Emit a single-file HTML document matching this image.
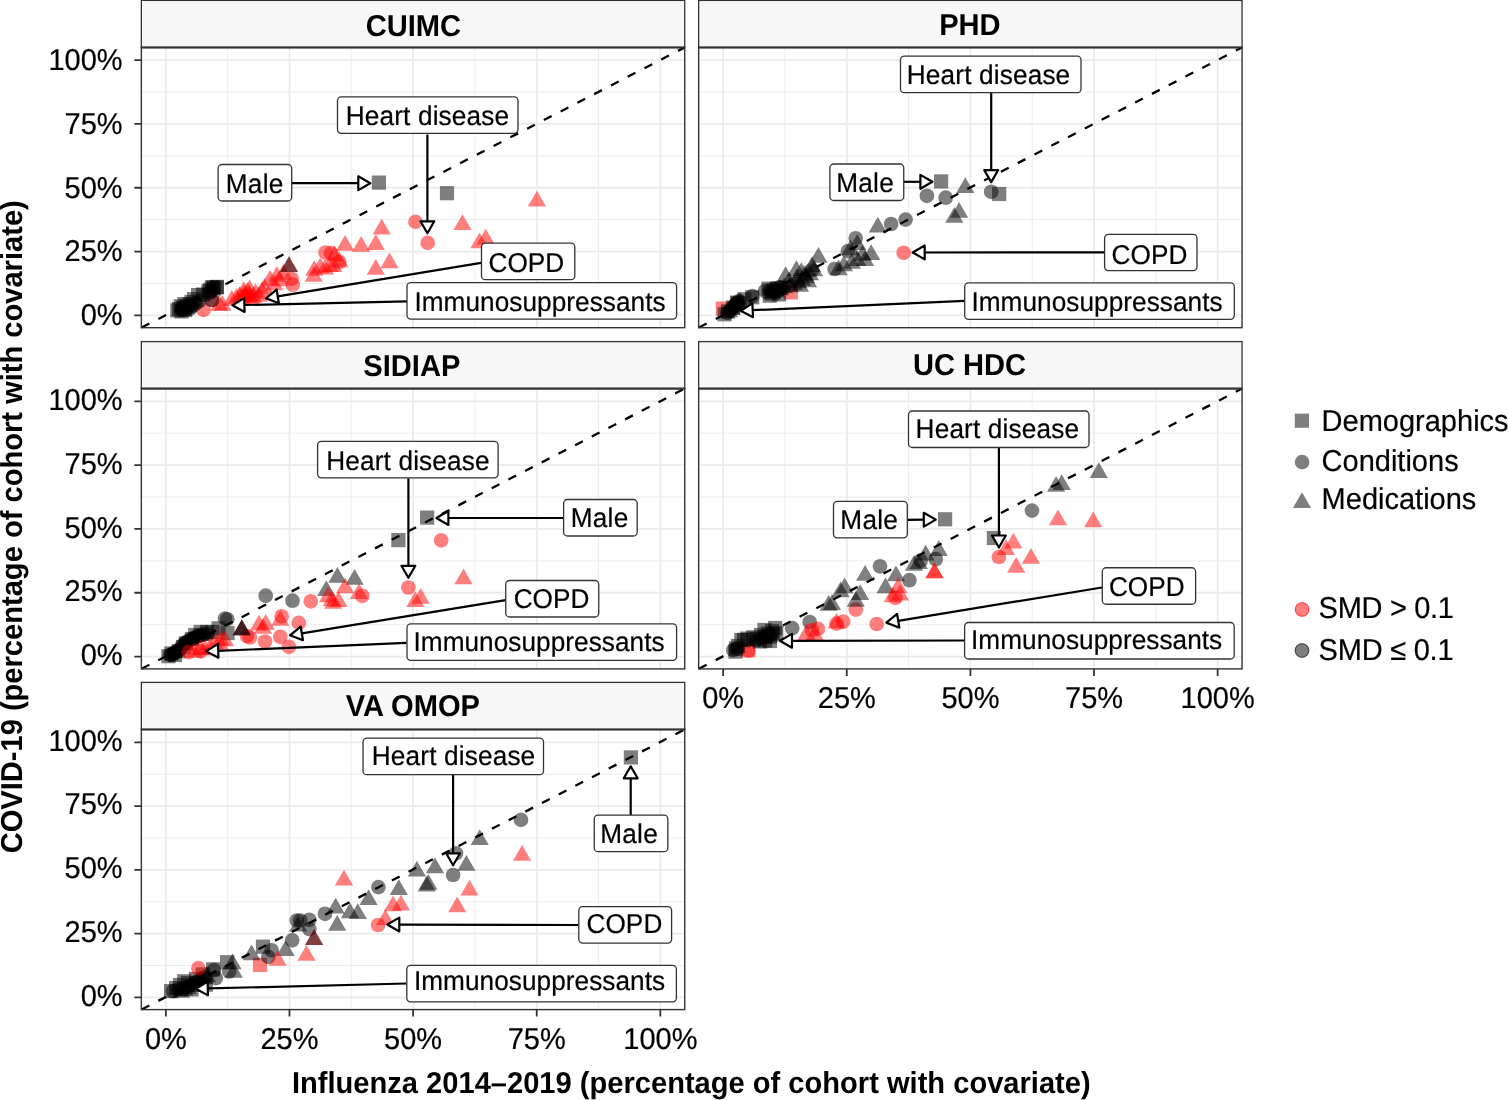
<!DOCTYPE html>
<html lang="en"><head><meta charset="utf-8"><title>Covariate prevalence: COVID-19 vs Influenza</title>
<style>
html,body{margin:0;padding:0;background:#fff}
body{width:1508px;height:1100px;overflow:hidden}
svg{display:block;font-family:"Liberation Sans", Arial, Helvetica, sans-serif;text-rendering:geometricPrecision}
.t{font-size:29px;fill:#000;stroke:#000;stroke-width:.2px}
.b{font-size:29.1px;font-weight:bold;fill:#000}
.l{font-size:26.2px;fill:#000;stroke:#000;stroke-width:.2px}
.gM{stroke:#ebebeb;stroke-width:1.8;fill:none}
.gm{stroke:#ebebeb;stroke-width:.9;fill:none}
.tk{stroke:#333;stroke-width:1.8;fill:none}
.bd{stroke:#333;stroke-width:1.4;fill:none}
.st{stroke:#333;stroke-width:1.3;fill:#f7f7f7}
.sb{stroke:#333;stroke-width:2;fill:none}
.ab{stroke:#000;stroke-width:2.3;stroke-dashoffset:-.3;fill:none}
.pt{fill-opacity:.5}
.ar{stroke:#000;stroke-width:2.2;stroke-linejoin:round}
.bx{fill:#fff;stroke:#333;stroke-width:1.3}
</style></head><body>
<svg width="1508" height="1100" viewBox="0 0 1508 1100">
<rect width="1508" height="1100" fill="#fff"/>
<text class="b" text-anchor="middle" transform="translate(22.3 526.8) rotate(-90) scale(1 1.04)">COVID-19 (percentage of cohort with covariate)</text>
<text class="b" text-anchor="middle" transform="translate(691.3 1092.7) scale(1 1.04)">Influenza 2014–2019 (percentage of cohort with covariate)</text>
<g id="panel-CUIMC">
<clipPath id="c00"><rect x="141.35" y="47.4" width="543.4" height="280.3"/></clipPath>
<rect x="141.35" y="47.4" width="543.4" height="280.3" fill="#fff"/>
<path class="gm" d="M227.66 47.4V327.7M351.29 47.4V327.7M474.91 47.4V327.7M598.54 47.4V327.7M141.35 283.49H684.75M141.35 219.66H684.75M141.35 155.84H684.75M141.35 92.01H684.75"/>
<path class="gM" d="M165.85 47.4V327.7M289.48 47.4V327.7M413.1 47.4V327.7M536.73 47.4V327.7M660.35 47.4V327.7M141.35 315.4H684.75M141.35 251.57H684.75M141.35 187.75H684.75M141.35 123.92H684.75M141.35 60.1H684.75"/>
<g class="pt" clip-path="url(#c00)">
<circle cx="203.5" cy="309.8" r="7.35" fill="#f00"/>
<circle cx="212" cy="300" r="7.35" fill="#f00"/>
<circle cx="292.8" cy="284.7" r="7.35" fill="#f00"/>
<circle cx="291.6" cy="278.8" r="7.35" fill="#f00"/>
<circle cx="325.6" cy="252.5" r="7.35" fill="#f00"/>
<circle cx="331" cy="253.1" r="7.35" fill="#f00"/>
<circle cx="339.4" cy="262.1" r="7.35" fill="#f00"/>
<circle cx="415.5" cy="221.9" r="7.35" fill="#f00"/>
<circle cx="427.7" cy="242.9" r="7.35" fill="#f00"/>
<path d="M219.3 295.1L228.39 310.85L210.21 310.85Z" fill="#f00"/>
<path d="M222.4 295.1L231.49 310.85L213.31 310.85Z" fill="#f00"/>
<path d="M231.8 289.9L240.89 305.65L222.71 305.65Z" fill="#f00"/>
<path d="M243.6 281.3L252.69 297.05L234.51 297.05Z" fill="#f00"/>
<path d="M249.6 279.4L258.69 295.15L240.51 295.15Z" fill="#f00"/>
<path d="M239.6 286.3L248.69 302.05L230.51 302.05Z" fill="#f00"/>
<path d="M244.6 284.3L253.69 300.05L235.51 300.05Z" fill="#f00"/>
<path d="M249.6 285.3L258.69 301.05L240.51 301.05Z" fill="#f00"/>
<path d="M253.5 287.3L262.59 303.05L244.41 303.05Z" fill="#f00"/>
<path d="M255.5 283.3L264.59 299.05L246.41 299.05Z" fill="#f00"/>
<path d="M247.5 282.3L256.59 298.05L238.41 298.05Z" fill="#f00"/>
<path d="M242 288L251.09 303.75L232.91 303.75Z" fill="#f00"/>
<path d="M251 288.5L260.09 304.25L241.91 304.25Z" fill="#f00"/>
<path d="M236.5 288L245.59 303.75L227.41 303.75Z" fill="#f00"/>
<path d="M246 286.5L255.09 302.25L236.91 302.25Z" fill="#f00"/>
<path d="M264.5 277.9L273.59 293.65L255.41 293.65Z" fill="#f00"/>
<path d="M270 269.9L279.09 285.65L260.91 285.65Z" fill="#f00"/>
<path d="M276.9 265.9L285.99 281.65L267.81 281.65Z" fill="#f00"/>
<path d="M283.4 263.9L292.49 279.65L274.31 279.65Z" fill="#f00"/>
<path d="M274.4 274.4L283.49 290.15L265.31 290.15Z" fill="#f00"/>
<path d="M279.4 270.4L288.49 286.15L270.31 286.15Z" fill="#f00"/>
<path d="M259 286L268.09 301.75L249.91 301.75Z" fill="#f00"/>
<path d="M262 281.5L271.09 297.25L252.91 297.25Z" fill="#f00"/>
<path d="M289 256.2L298.09 271.95L279.91 271.95Z" fill="#f00"/>
<path d="M381.7 218.7L390.79 234.45L372.61 234.45Z" fill="#f00"/>
<path d="M345.1 235.1L354.19 250.85L336.01 250.85Z" fill="#f00"/>
<path d="M361.1 236.1L370.19 251.85L352.01 251.85Z" fill="#f00"/>
<path d="M375.8 234.3L384.89 250.05L366.71 250.05Z" fill="#f00"/>
<path d="M389.5 252.4L398.59 268.15L380.41 268.15Z" fill="#f00"/>
<path d="M375.8 259L384.89 274.75L366.71 274.75Z" fill="#f00"/>
<path d="M314.3 259.9L323.39 275.65L305.21 275.65Z" fill="#f00"/>
<path d="M313.7 265.9L322.79 281.65L304.61 281.65Z" fill="#f00"/>
<path d="M320.3 257.5L329.39 273.25L311.21 273.25Z" fill="#f00"/>
<path d="M325 258.7L334.09 274.45L315.91 274.45Z" fill="#f00"/>
<path d="M329.8 256.3L338.89 272.05L320.71 272.05Z" fill="#f00"/>
<path d="M334.6 245.6L343.69 261.35L325.51 261.35Z" fill="#f00"/>
<path d="M339.4 251.6L348.49 267.35L330.31 267.35Z" fill="#f00"/>
<path d="M333.4 256.3L342.49 272.05L324.31 272.05Z" fill="#f00"/>
<path d="M462.5 214.2L471.59 229.95L453.41 229.95Z" fill="#f00"/>
<path d="M485.7 228.8L494.79 244.55L476.61 244.55Z" fill="#f00"/>
<path d="M479.5 232.5L488.59 248.25L470.41 248.25Z" fill="#f00"/>
<path d="M536.9 190.8L545.99 206.55L527.81 206.55Z" fill="#f00"/>
<rect x="170.25" y="303.25" width="14.2" height="14.2" fill="#000"/>
<rect x="173.75" y="299.25" width="14.2" height="14.2" fill="#000"/>
<rect x="177.25" y="297" width="14.2" height="14.2" fill="#000"/>
<rect x="174.4" y="304.3" width="14.2" height="14.2" fill="#000"/>
<rect x="171.9" y="301.9" width="14.2" height="14.2" fill="#000"/>
<rect x="175.9" y="300.9" width="14.2" height="14.2" fill="#000"/>
<rect x="179.4" y="299.4" width="14.2" height="14.2" fill="#000"/>
<rect x="182.4" y="297.4" width="14.2" height="14.2" fill="#000"/>
<rect x="177.9" y="302.9" width="14.2" height="14.2" fill="#000"/>
<rect x="187" y="292" width="14.2" height="14.2" fill="#000"/>
<rect x="191" y="288" width="14.2" height="14.2" fill="#000"/>
<rect x="184.4" y="294.9" width="14.2" height="14.2" fill="#000"/>
<rect x="201.25" y="284.25" width="14.2" height="14.2" fill="#000"/>
<rect x="204.75" y="280.25" width="14.2" height="14.2" fill="#000"/>
<rect x="209.7" y="280.25" width="14.2" height="14.2" fill="#000"/>
<rect x="209.7" y="279.8" width="14.2" height="14.2" fill="#000"/>
<rect x="206.9" y="281.4" width="14.2" height="14.2" fill="#000"/>
<rect x="202.9" y="282.9" width="14.2" height="14.2" fill="#000"/>
<rect x="205.9" y="280.4" width="14.2" height="14.2" fill="#000"/>
<rect x="195.9" y="287.4" width="14.2" height="14.2" fill="#000"/>
<circle cx="182" cy="309.5" r="7.35" fill="#000"/>
<circle cx="186" cy="309.5" r="7.35" fill="#000"/>
<circle cx="190" cy="308.8" r="7.35" fill="#000"/>
<circle cx="192.5" cy="306" r="7.35" fill="#000"/>
<circle cx="196" cy="303.5" r="7.35" fill="#000"/>
<circle cx="188" cy="307" r="7.35" fill="#000"/>
<circle cx="199.5" cy="301" r="7.35" fill="#000"/>
<circle cx="212" cy="300" r="7.35" fill="#000"/>
<circle cx="209" cy="293" r="7.35" fill="#000"/>
<path d="M289 256.2L298.09 271.95L279.91 271.95Z" fill="#000"/>
<rect x="371.8" y="175.5" width="14.2" height="14.2" fill="#000"/>
<rect x="439.9" y="186.1" width="14.2" height="14.2" fill="#000"/>
</g>
<path class="ab" stroke-dasharray="8.7 10.16" d="M141.35 327.7L684.75 47.4"/>
<rect class="bd" x="141.35" y="47.4" width="543.4" height="280.3"/>
<rect class="st" x="141.35" y="0.4" width="543.4" height="47"/>
<path class="sb" d="M141.05 47.4H685.05"/>
<text class="b" text-anchor="middle" transform="translate(413.35 35.5) scale(1 1.04)">CUIMC</text>
<path class="tk" d="M134.35 315.4H141.35M134.35 251.57H141.35M134.35 187.75H141.35M134.35 123.92H141.35M134.35 60.1H141.35"/>
<text class="t" text-anchor="end" transform="translate(122.65 325.2) scale(1 1.04)">0%</text>
<text class="t" text-anchor="end" transform="translate(122.65 261.38) scale(1 1.04)">25%</text>
<text class="t" text-anchor="end" transform="translate(122.65 197.55) scale(1 1.04)">50%</text>
<text class="t" text-anchor="end" transform="translate(122.65 133.72) scale(1 1.04)">75%</text>
<text class="t" text-anchor="end" transform="translate(122.65 69.9) scale(1 1.04)">100%</text>
<g class="ar">
<path d="M427.4 134.6L427.4 221.3" fill="none"/><path d="M427.4 233.3L420.47 221.3L434.33 221.3Z" fill="#fff"/>
<path d="M292 183.2L358.3 183.2" fill="none"/><path d="M370.3 183.2L358.3 190.13L358.3 176.27Z" fill="#fff"/>
<path d="M481.1 262.8L277.73 296.37" fill="none"/><path d="M265.89 298.32L276.6 289.53L278.85 303.2Z" fill="#fff"/>
<path d="M406.9 301.3L244.4 305" fill="none"/><path d="M232.4 305.27L244.24 298.07L244.55 311.93Z" fill="#fff"/>
</g>
<rect class="bx" x="337.5" y="96.9" width="180.5" height="36.5" rx="3.8"/>
<text class="l" textLength="163.4" lengthAdjust="spacing" transform="translate(345.7 125.4) scale(1 1.04)">Heart disease</text>
<rect class="bx" x="218.1" y="164.5" width="73.6" height="36.5" rx="3.8"/>
<text class="l" textLength="57.6" lengthAdjust="spacing" transform="translate(225.75 192.9) scale(1 1.04)">Male</text>
<rect class="bx" x="481.5" y="243.2" width="93.3" height="36.5" rx="3.8"/>
<text class="l" textLength="75.8" lengthAdjust="spacing" transform="translate(488.45 271.9) scale(1 1.04)">COPD</text>
<rect class="bx" x="407" y="282.55" width="269.6" height="36.5" rx="3.8"/>
<text class="l" textLength="251.2" lengthAdjust="spacing" transform="translate(414.4 311.25) scale(1 1.04)">Immunosuppressants</text>
</g>
<g id="panel-PHD">
<clipPath id="c01"><rect x="698.65" y="47.4" width="543.4" height="280.3"/></clipPath>
<rect x="698.65" y="47.4" width="543.4" height="280.3" fill="#fff"/>
<path class="gm" d="M784.96 47.4V327.7M908.59 47.4V327.7M1032.21 47.4V327.7M1155.84 47.4V327.7M698.65 283.49H1242.05M698.65 219.66H1242.05M698.65 155.84H1242.05M698.65 92.01H1242.05"/>
<path class="gM" d="M723.15 47.4V327.7M846.77 47.4V327.7M970.4 47.4V327.7M1094.02 47.4V327.7M1217.65 47.4V327.7M698.65 315.4H1242.05M698.65 251.57H1242.05M698.65 187.75H1242.05M698.65 123.92H1242.05M698.65 60.1H1242.05"/>
<g class="pt" clip-path="url(#c01)">
<rect x="715.8" y="301.5" width="14.2" height="14.2" fill="#f00"/>
<rect x="783.7" y="285.3" width="14.2" height="14.2" fill="#f00"/>
<rect x="717.5" y="307.2" width="14.2" height="14.2" fill="#000"/>
<rect x="729.9" y="295.5" width="14.2" height="14.2" fill="#000"/>
<rect x="737.2" y="292.2" width="14.2" height="14.2" fill="#000"/>
<rect x="745.1" y="290.2" width="14.2" height="14.2" fill="#000"/>
<rect x="761.4" y="281.6" width="14.2" height="14.2" fill="#000"/>
<rect x="762.6" y="288.6" width="14.2" height="14.2" fill="#000"/>
<rect x="771.9" y="287.3" width="14.2" height="14.2" fill="#000"/>
<rect x="766.9" y="283.9" width="14.2" height="14.2" fill="#000"/>
<rect x="769.9" y="281.4" width="14.2" height="14.2" fill="#000"/>
<rect x="764.9" y="286.4" width="14.2" height="14.2" fill="#000"/>
<circle cx="727.5" cy="313" r="7.35" fill="#000"/>
<circle cx="729.42" cy="311" r="7.35" fill="#000"/>
<circle cx="731.33" cy="309" r="7.35" fill="#000"/>
<circle cx="733.25" cy="307" r="7.35" fill="#000"/>
<circle cx="735.17" cy="305" r="7.35" fill="#000"/>
<circle cx="737.08" cy="303" r="7.35" fill="#000"/>
<circle cx="739" cy="301" r="7.35" fill="#000"/>
<path d="M729 301.5L738.09 317.25L719.91 317.25Z" fill="#000"/>
<path d="M731.75 299.12L740.84 314.88L722.66 314.88Z" fill="#000"/>
<path d="M734.5 296.75L743.59 312.5L725.41 312.5Z" fill="#000"/>
<path d="M737.25 294.38L746.34 310.12L728.16 310.12Z" fill="#000"/>
<path d="M740 292L749.09 307.75L730.91 307.75Z" fill="#000"/>
<rect x="720.9" y="304.4" width="14.2" height="14.2" fill="#000"/>
<rect x="725.9" y="300.4" width="14.2" height="14.2" fill="#000"/>
<rect x="730.9" y="296.4" width="14.2" height="14.2" fill="#000"/>
<circle cx="752.4" cy="296.2" r="7.35" fill="#000"/>
<circle cx="765" cy="290.9" r="7.35" fill="#000"/>
<circle cx="770" cy="290" r="7.35" fill="#000"/>
<circle cx="775" cy="288.5" r="7.35" fill="#000"/>
<circle cx="780" cy="287" r="7.35" fill="#000"/>
<circle cx="773" cy="292" r="7.35" fill="#000"/>
<circle cx="778" cy="290.5" r="7.35" fill="#000"/>
<circle cx="783" cy="288" r="7.35" fill="#000"/>
<path d="M772 283.5L781.09 299.25L762.91 299.25Z" fill="#000"/>
<path d="M776 281.5L785.09 297.25L766.91 297.25Z" fill="#000"/>
<path d="M780 279.5L789.09 295.25L770.91 295.25Z" fill="#000"/>
<path d="M784 277.5L793.09 293.25L774.91 293.25Z" fill="#000"/>
<path d="M785.6 266.3L794.69 282.05L776.51 282.05Z" fill="#000"/>
<path d="M796.4 260.2L805.49 275.95L787.31 275.95Z" fill="#000"/>
<path d="M801.4 262.2L810.49 277.95L792.31 277.95Z" fill="#000"/>
<path d="M812.1 256.2L821.19 271.95L803.01 271.95Z" fill="#000"/>
<path d="M818.4 246.9L827.49 262.65L809.31 262.65Z" fill="#000"/>
<path d="M790 276.5L799.09 292.25L780.91 292.25Z" fill="#000"/>
<path d="M794 274.5L803.09 290.25L784.91 290.25Z" fill="#000"/>
<path d="M798 272.5L807.09 288.25L788.91 288.25Z" fill="#000"/>
<path d="M802 270L811.09 285.75L792.91 285.75Z" fill="#000"/>
<path d="M806 267.5L815.09 283.25L796.91 283.25Z" fill="#000"/>
<path d="M810 264.5L819.09 280.25L800.91 280.25Z" fill="#000"/>
<path d="M789 271.5L798.09 287.25L779.91 287.25Z" fill="#000"/>
<path d="M797 268.5L806.09 284.25L787.91 284.25Z" fill="#000"/>
<path d="M805 265L814.09 280.75L795.91 280.75Z" fill="#000"/>
<path d="M800 276L809.09 291.75L790.91 291.75Z" fill="#000"/>
<path d="M808 271.5L817.09 287.25L798.91 287.25Z" fill="#000"/>
<path d="M814 260.5L823.09 276.25L804.91 276.25Z" fill="#000"/>
<circle cx="834.6" cy="269" r="7.35" fill="#000"/>
<circle cx="847.9" cy="251.1" r="7.35" fill="#000"/>
<circle cx="855.7" cy="238.3" r="7.35" fill="#000"/>
<circle cx="891.1" cy="224" r="7.35" fill="#000"/>
<circle cx="905.6" cy="219.6" r="7.35" fill="#000"/>
<circle cx="926.9" cy="195.8" r="7.35" fill="#000"/>
<circle cx="945.7" cy="197.7" r="7.35" fill="#000"/>
<circle cx="991.2" cy="191.8" r="7.35" fill="#000"/>
<circle cx="812" cy="270" r="7.35" fill="#000"/>
<path d="M857.2 234.3L866.29 250.05L848.11 250.05Z" fill="#000"/>
<path d="M850.5 239.6L859.59 255.35L841.41 255.35Z" fill="#000"/>
<path d="M862.5 244.9L871.59 260.65L853.41 260.65Z" fill="#000"/>
<path d="M843.9 255.5L852.99 271.25L834.81 271.25Z" fill="#000"/>
<path d="M838.6 259.5L847.69 275.25L829.51 275.25Z" fill="#000"/>
<path d="M851.8 252.9L860.89 268.65L842.71 268.65Z" fill="#000"/>
<path d="M857.2 250.2L866.29 265.95L848.11 265.95Z" fill="#000"/>
<path d="M865.1 250.2L874.19 265.95L856.01 265.95Z" fill="#000"/>
<path d="M871.2 244.3L880.29 260.05L862.11 260.05Z" fill="#000"/>
<path d="M877.8 216.8L886.89 232.55L868.71 232.55Z" fill="#000"/>
<path d="M965.3 177.3L974.39 193.05L956.21 193.05Z" fill="#000"/>
<path d="M959.1 202L968.19 217.75L950.01 217.75Z" fill="#000"/>
<path d="M954.3 206.9L963.39 222.65L945.21 222.65Z" fill="#000"/>
<circle cx="903.7" cy="252.8" r="7.35" fill="#f00"/>
<rect x="934" y="174.3" width="14.2" height="14.2" fill="#000"/>
<rect x="992.1" y="186.9" width="14.2" height="14.2" fill="#000"/>
</g>
<path class="ab" stroke-dasharray="8.7 10.18" d="M698.65 327.7L1242.05 47.4"/>
<rect class="bd" x="698.65" y="47.4" width="543.4" height="280.3"/>
<rect class="st" x="698.65" y="0.4" width="543.4" height="47"/>
<path class="sb" d="M698.35 47.4H1242.35"/>
<text class="b" text-anchor="middle" transform="translate(969.85 35.2) scale(1 1.04)">PHD</text>
<g class="ar">
<path d="M991.2 92.8L991.2 170.1" fill="none"/><path d="M991.2 182.1L984.27 170.1L998.13 170.1Z" fill="#fff"/>
<path d="M903.8 181.8L920.4 181.8" fill="none"/><path d="M932.4 181.8L920.4 188.73L920.4 174.87Z" fill="#fff"/>
<path d="M1104.3 252.3L924.7 252.49" fill="none"/><path d="M912.7 252.5L924.69 245.56L924.71 259.42Z" fill="#fff"/>
<path d="M964.6 300.9L752.69 310.22" fill="none"/><path d="M740.7 310.75L752.38 303.3L752.99 317.15Z" fill="#fff"/>
</g>
<rect class="bx" x="900.5" y="56.2" width="180.5" height="36.5" rx="3.8"/>
<text class="l" textLength="163.4" lengthAdjust="spacing" transform="translate(906.8 84.4) scale(1 1.04)">Heart disease</text>
<rect class="bx" x="829.9" y="164" width="73.85" height="36.5" rx="3.8"/>
<text class="l" textLength="57.6" lengthAdjust="spacing" transform="translate(836.2 191.9) scale(1 1.04)">Male</text>
<rect class="bx" x="1104.6" y="234.4" width="92.4" height="36.2" rx="3.8"/>
<text class="l" textLength="75.8" lengthAdjust="spacing" transform="translate(1111.55 263.7) scale(1 1.04)">COPD</text>
<rect class="bx" x="964.7" y="282.9" width="269.6" height="36.5" rx="3.8"/>
<text class="l" textLength="251.2" lengthAdjust="spacing" transform="translate(971.4 310.65) scale(1 1.04)">Immunosuppressants</text>
</g>
<g id="panel-SIDIAP">
<clipPath id="c10"><rect x="141.35" y="388.6" width="543.4" height="280.3"/></clipPath>
<rect x="141.35" y="388.6" width="543.4" height="280.3" fill="#fff"/>
<path class="gm" d="M227.66 388.6V668.9M351.29 388.6V668.9M474.91 388.6V668.9M598.54 388.6V668.9M141.35 624.69H684.75M141.35 560.86H684.75M141.35 497.04H684.75M141.35 433.21H684.75"/>
<path class="gM" d="M165.85 388.6V668.9M289.48 388.6V668.9M413.1 388.6V668.9M536.73 388.6V668.9M660.35 388.6V668.9M141.35 656.6H684.75M141.35 592.77H684.75M141.35 528.95H684.75M141.35 465.12H684.75M141.35 401.3H684.75"/>
<g class="pt" clip-path="url(#c10)">
<rect x="161.3" y="649.1" width="14.2" height="14.2" fill="#000"/>
<rect x="164.3" y="646.4" width="14.2" height="14.2" fill="#000"/>
<rect x="171.6" y="644.1" width="14.2" height="14.2" fill="#000"/>
<rect x="167.9" y="647.9" width="14.2" height="14.2" fill="#000"/>
<rect x="184.8" y="631.85" width="14.2" height="14.2" fill="#000"/>
<rect x="188.15" y="627.9" width="14.2" height="14.2" fill="#000"/>
<rect x="193.5" y="624.9" width="14.2" height="14.2" fill="#000"/>
<rect x="199.9" y="624.9" width="14.2" height="14.2" fill="#000"/>
<rect x="205.4" y="624.9" width="14.2" height="14.2" fill="#000"/>
<rect x="178.9" y="636.4" width="14.2" height="14.2" fill="#000"/>
<rect x="175.9" y="639.9" width="14.2" height="14.2" fill="#000"/>
<rect x="211.4" y="621.2" width="14.2" height="14.2" fill="#000"/>
<rect x="220.4" y="625.95" width="14.2" height="14.2" fill="#000"/>
<circle cx="170" cy="655" r="7.35" fill="#000"/>
<circle cx="173" cy="653.5" r="7.35" fill="#000"/>
<circle cx="176.5" cy="652" r="7.35" fill="#000"/>
<circle cx="180" cy="649.5" r="7.35" fill="#000"/>
<circle cx="184.8" cy="642.8" r="7.35" fill="#000"/>
<circle cx="188" cy="641" r="7.35" fill="#000"/>
<circle cx="192" cy="639" r="7.35" fill="#000"/>
<circle cx="196" cy="637" r="7.35" fill="#000"/>
<circle cx="200" cy="635.5" r="7.35" fill="#000"/>
<circle cx="204" cy="634.5" r="7.35" fill="#000"/>
<circle cx="208" cy="634" r="7.35" fill="#000"/>
<circle cx="182" cy="646" r="7.35" fill="#000"/>
<circle cx="172" cy="654.5" r="7.35" fill="#000"/>
<circle cx="178" cy="650.5" r="7.35" fill="#000"/>
<circle cx="190" cy="640" r="7.35" fill="#000"/>
<circle cx="198" cy="636" r="7.35" fill="#000"/>
<circle cx="203" cy="634.5" r="7.35" fill="#000"/>
<circle cx="175" cy="652.5" r="7.35" fill="#000"/>
<circle cx="186" cy="643" r="7.35" fill="#000"/>
<circle cx="194" cy="638" r="7.35" fill="#000"/>
<circle cx="224.95" cy="618.6" r="7.35" fill="#000"/>
<circle cx="227.3" cy="619.25" r="7.35" fill="#000"/>
<circle cx="265.7" cy="595.7" r="7.35" fill="#000"/>
<circle cx="292.5" cy="600.7" r="7.35" fill="#000"/>
<circle cx="310.8" cy="601.3" r="7.35" fill="#f00"/>
<circle cx="281.6" cy="616.3" r="7.35" fill="#f00"/>
<circle cx="298.8" cy="622.9" r="7.35" fill="#f00"/>
<circle cx="280.3" cy="636.8" r="7.35" fill="#f00"/>
<circle cx="265" cy="641.5" r="7.35" fill="#f00"/>
<circle cx="288.9" cy="646.8" r="7.35" fill="#f00"/>
<circle cx="249.8" cy="637.5" r="7.35" fill="#f00"/>
<circle cx="247" cy="636" r="7.35" fill="#f00"/>
<circle cx="188.7" cy="652.1" r="7.35" fill="#f00"/>
<circle cx="200.7" cy="651.4" r="7.35" fill="#f00"/>
<circle cx="441.2" cy="540.4" r="7.35" fill="#f00"/>
<circle cx="408.4" cy="587.5" r="7.35" fill="#f00"/>
<circle cx="362.3" cy="595.8" r="7.35" fill="#f00"/>
<path d="M241.8 619.4L250.89 635.15L232.71 635.15Z" fill="#f00"/>
<path d="M241.8 619.4L250.89 635.15L232.71 635.15Z" fill="#000"/>
<path d="M241.8 619.4L250.89 635.15L232.71 635.15Z" fill="#000"/>
<path d="M337.4 567.1L346.49 582.85L328.31 582.85Z" fill="#000"/>
<path d="M354.6 569L363.69 584.75L345.51 584.75Z" fill="#000"/>
<path d="M326.3 580.3L335.39 596.05L317.21 596.05Z" fill="#000"/>
<path d="M220.6 630L229.69 645.75L211.51 645.75Z" fill="#f00"/>
<path d="M259 614.8L268.09 630.55L249.91 630.55Z" fill="#f00"/>
<path d="M265.7 614.1L274.79 629.85L256.61 629.85Z" fill="#f00"/>
<path d="M263 618.1L272.09 633.85L253.91 633.85Z" fill="#f00"/>
<path d="M280.3 610.1L289.39 625.85L271.21 625.85Z" fill="#f00"/>
<path d="M200.7 639.3L209.79 655.05L191.61 655.05Z" fill="#f00"/>
<path d="M194 642L203.09 657.75L184.91 657.75Z" fill="#f00"/>
<path d="M210 638L219.09 653.75L200.91 653.75Z" fill="#f00"/>
<path d="M220.6 635.3L229.69 651.05L211.51 651.05Z" fill="#f00"/>
<path d="M328 586.5L337.09 602.25L318.91 602.25Z" fill="#f00"/>
<path d="M333.3 593.1L342.39 608.85L324.21 608.85Z" fill="#f00"/>
<path d="M345.1 577.4L354.19 593.15L336.01 593.15Z" fill="#f00"/>
<path d="M359 583.3L368.09 599.05L349.91 599.05Z" fill="#f00"/>
<path d="M338.5 591.3L347.59 607.05L329.41 607.05Z" fill="#f00"/>
<path d="M331.8 590.6L340.89 606.35L322.71 606.35Z" fill="#f00"/>
<path d="M463.5 568.4L472.59 584.15L454.41 584.15Z" fill="#f00"/>
<path d="M420.7 588L429.79 603.75L411.61 603.75Z" fill="#f00"/>
<path d="M415.4 591.3L424.49 607.05L406.31 607.05Z" fill="#f00"/>
<path d="M215 633.5L224.09 649.25L205.91 649.25Z" fill="#f00"/>
<path d="M205 639.5L214.09 655.25L195.91 655.25Z" fill="#f00"/>
<path d="M225 630.5L234.09 646.25L215.91 646.25Z" fill="#f00"/>
<rect x="420" y="510.5" width="14.2" height="14.2" fill="#000"/>
<rect x="391.3" y="533" width="14.2" height="14.2" fill="#000"/>
</g>
<path class="ab" stroke-dasharray="8.7 10.06" d="M141.35 668.9L684.75 388.6"/>
<rect class="bd" x="141.35" y="388.6" width="543.4" height="280.3"/>
<rect class="st" x="141.35" y="341.6" width="543.4" height="47"/>
<path class="sb" d="M141.05 388.6H685.05"/>
<text class="b" text-anchor="middle" transform="translate(411.85 375.6) scale(1 1.04)">SIDIAP</text>
<path class="tk" d="M134.35 656.6H141.35M134.35 592.77H141.35M134.35 528.95H141.35M134.35 465.12H141.35M134.35 401.3H141.35"/>
<text class="t" text-anchor="end" transform="translate(122.65 665.2) scale(1 1.04)">0%</text>
<text class="t" text-anchor="end" transform="translate(122.65 601.38) scale(1 1.04)">25%</text>
<text class="t" text-anchor="end" transform="translate(122.65 537.55) scale(1 1.04)">50%</text>
<text class="t" text-anchor="end" transform="translate(122.65 473.73) scale(1 1.04)">75%</text>
<text class="t" text-anchor="end" transform="translate(122.65 409.9) scale(1 1.04)">100%</text>
<g class="ar">
<path d="M408.4 478.4L408.4 565.8" fill="none"/><path d="M408.4 577.8L401.47 565.8L415.33 565.8Z" fill="#fff"/>
<path d="M563.3 518L448.4 518" fill="none"/><path d="M436.4 518L448.4 511.07L448.4 524.93Z" fill="#fff"/>
<path d="M505.6 600.1L301.83 633.39" fill="none"/><path d="M289.99 635.32L300.71 626.55L302.95 640.23Z" fill="#fff"/>
<path d="M406.5 642.9L218.19 650.85" fill="none"/><path d="M206.2 651.35L217.9 643.92L218.48 657.77Z" fill="#fff"/>
</g>
<rect class="bx" x="317.6" y="441.4" width="180.5" height="36.5" rx="3.8"/>
<text class="l" textLength="163.4" lengthAdjust="spacing" transform="translate(326.2 469.6) scale(1 1.04)">Heart disease</text>
<rect class="bx" x="563.6" y="499.5" width="73.6" height="36.5" rx="3.8"/>
<text class="l" textLength="57.6" lengthAdjust="spacing" transform="translate(570.7 527.3) scale(1 1.04)">Male</text>
<rect class="bx" x="505.75" y="580.5" width="93" height="36.5" rx="3.8"/>
<text class="l" textLength="75.8" lengthAdjust="spacing" transform="translate(513.65 607.75) scale(1 1.04)">COPD</text>
<rect class="bx" x="407" y="623.9" width="269.6" height="36.5" rx="3.8"/>
<text class="l" textLength="251.2" lengthAdjust="spacing" transform="translate(413.45 650.7) scale(1 1.04)">Immunosuppressants</text>
</g>
<g id="panel-UC-HDC">
<clipPath id="c11"><rect x="698.65" y="388.6" width="543.4" height="280.3"/></clipPath>
<rect x="698.65" y="388.6" width="543.4" height="280.3" fill="#fff"/>
<path class="gm" d="M784.96 388.6V668.9M908.59 388.6V668.9M1032.21 388.6V668.9M1155.84 388.6V668.9M698.65 624.69H1242.05M698.65 560.86H1242.05M698.65 497.04H1242.05M698.65 433.21H1242.05"/>
<path class="gM" d="M723.15 388.6V668.9M846.77 388.6V668.9M970.4 388.6V668.9M1094.02 388.6V668.9M1217.65 388.6V668.9M698.65 656.6H1242.05M698.65 592.77H1242.05M698.65 528.95H1242.05M698.65 465.12H1242.05M698.65 401.3H1242.05"/>
<g class="pt" clip-path="url(#c11)">
<circle cx="748.5" cy="650.75" r="7.35" fill="#f00"/>
<rect x="740.9" y="643.2" width="14.2" height="14.2" fill="#f00"/>
<rect x="728.3" y="644.5" width="14.2" height="14.2" fill="#000"/>
<rect x="730.9" y="638.9" width="14.2" height="14.2" fill="#000"/>
<rect x="734.2" y="632.85" width="14.2" height="14.2" fill="#000"/>
<rect x="740.2" y="631.5" width="14.2" height="14.2" fill="#000"/>
<rect x="746.2" y="630.2" width="14.2" height="14.2" fill="#000"/>
<rect x="757.4" y="622.9" width="14.2" height="14.2" fill="#000"/>
<rect x="768.05" y="620.9" width="14.2" height="14.2" fill="#000"/>
<rect x="769.1" y="625.9" width="14.2" height="14.2" fill="#000"/>
<rect x="762.9" y="633.9" width="14.2" height="14.2" fill="#000"/>
<rect x="757.9" y="633.4" width="14.2" height="14.2" fill="#000"/>
<rect x="752.9" y="634.4" width="14.2" height="14.2" fill="#000"/>
<rect x="749.9" y="631.9" width="14.2" height="14.2" fill="#000"/>
<rect x="753.9" y="627.9" width="14.2" height="14.2" fill="#000"/>
<rect x="760.9" y="626.4" width="14.2" height="14.2" fill="#000"/>
<rect x="764.9" y="623.9" width="14.2" height="14.2" fill="#000"/>
<rect x="762.9" y="629.4" width="14.2" height="14.2" fill="#000"/>
<rect x="736.9" y="632.9" width="14.2" height="14.2" fill="#000"/>
<rect x="728.9" y="641.4" width="14.2" height="14.2" fill="#000"/>
<rect x="758.9" y="629.9" width="14.2" height="14.2" fill="#000"/>
<rect x="765.9" y="627.4" width="14.2" height="14.2" fill="#000"/>
<circle cx="733.2" cy="650.1" r="7.35" fill="#000"/>
<circle cx="737" cy="649" r="7.35" fill="#000"/>
<circle cx="756" cy="640.5" r="7.35" fill="#000"/>
<circle cx="763" cy="637.5" r="7.35" fill="#000"/>
<circle cx="768" cy="636" r="7.35" fill="#000"/>
<circle cx="792.2" cy="628.2" r="7.35" fill="#000"/>
<circle cx="809.7" cy="622" r="7.35" fill="#000"/>
<circle cx="880" cy="566.3" r="7.35" fill="#000"/>
<circle cx="1032" cy="510.6" r="7.35" fill="#000"/>
<circle cx="935.8" cy="559.2" r="7.35" fill="#000"/>
<circle cx="920.6" cy="560.7" r="7.35" fill="#000"/>
<circle cx="909.4" cy="580.2" r="7.35" fill="#000"/>
<circle cx="818" cy="628.9" r="7.35" fill="#f00"/>
<circle cx="843.2" cy="621.6" r="7.35" fill="#f00"/>
<circle cx="836.6" cy="623.6" r="7.35" fill="#f00"/>
<circle cx="855.8" cy="609.6" r="7.35" fill="#f00"/>
<circle cx="876.7" cy="624" r="7.35" fill="#f00"/>
<circle cx="998.9" cy="557" r="7.35" fill="#f00"/>
<circle cx="895.5" cy="597.8" r="7.35" fill="#f00"/>
<circle cx="812" cy="630" r="7.35" fill="#f00"/>
<path d="M865.1 565L874.19 580.75L856.01 580.75Z" fill="#000"/>
<path d="M844.6 577.4L853.69 593.15L835.51 593.15Z" fill="#000"/>
<path d="M840.6 581.6L849.69 597.35L831.51 597.35Z" fill="#000"/>
<path d="M860.1 584.3L869.19 600.05L851.01 600.05Z" fill="#000"/>
<path d="M855.8 590.9L864.89 606.65L846.71 606.65Z" fill="#000"/>
<path d="M828.6 594.9L837.69 610.65L819.51 610.65Z" fill="#000"/>
<path d="M832 594.2L841.09 609.95L822.91 609.95Z" fill="#000"/>
<path d="M885.5 577.5L894.59 593.25L876.41 593.25Z" fill="#000"/>
<path d="M896 565.5L905.09 581.25L886.91 581.25Z" fill="#000"/>
<path d="M1098.8 462.2L1107.89 477.95L1089.71 477.95Z" fill="#000"/>
<path d="M1061.7 474.2L1070.79 489.95L1052.61 489.95Z" fill="#000"/>
<path d="M1056.1 476.1L1065.19 491.85L1047.01 491.85Z" fill="#000"/>
<path d="M938.7 540.2L947.79 555.95L929.61 555.95Z" fill="#000"/>
<path d="M925.6 544.8L934.69 560.55L916.51 560.55Z" fill="#000"/>
<path d="M914.1 555L923.19 570.75L905.01 570.75Z" fill="#000"/>
<path d="M918.7 553.2L927.79 568.95L909.61 568.95Z" fill="#000"/>
<path d="M806.5 624.2L815.59 639.95L797.41 639.95Z" fill="#f00"/>
<path d="M814.7 624.7L823.79 640.45L805.61 640.45Z" fill="#f00"/>
<path d="M836.6 612.8L845.69 628.55L827.51 628.55Z" fill="#f00"/>
<path d="M1013.4 532.7L1022.49 548.45L1004.31 548.45Z" fill="#f00"/>
<path d="M1006 539.2L1015.09 554.95L996.91 554.95Z" fill="#f00"/>
<path d="M1031 548L1040.09 563.75L1021.91 563.75Z" fill="#f00"/>
<path d="M1016.2 556.9L1025.29 572.65L1007.11 572.65Z" fill="#f00"/>
<path d="M1058 509.5L1067.09 525.25L1048.91 525.25Z" fill="#f00"/>
<path d="M1093.2 511.4L1102.29 527.15L1084.11 527.15Z" fill="#f00"/>
<path d="M934.5 562.4L943.59 578.15L925.41 578.15Z" fill="#f00"/>
<path d="M934.5 562.4L943.59 578.15L925.41 578.15Z" fill="#f00"/>
<path d="M898.3 577.3L907.39 593.05L889.21 593.05Z" fill="#f00"/>
<path d="M892.7 586.6L901.79 602.35L883.61 602.35Z" fill="#f00"/>
<path d="M900.1 584.7L909.19 600.45L891.01 600.45Z" fill="#f00"/>
<rect x="938" y="512.2" width="14.2" height="14.2" fill="#000"/>
<rect x="986.8" y="530.9" width="14.2" height="14.2" fill="#000"/>
</g>
<path class="ab" stroke-dasharray="8.7 10.18" d="M698.65 668.9L1242.05 388.6"/>
<rect class="bd" x="698.65" y="388.6" width="543.4" height="280.3"/>
<rect class="st" x="698.65" y="341.6" width="543.4" height="47"/>
<path class="sb" d="M698.35 388.6H1242.35"/>
<text class="b" text-anchor="middle" transform="translate(969.55 375.3) scale(1 1.04)">UC HDC</text>
<path class="tk" d="M723.15 668.9V675.9M846.77 668.9V675.9M970.4 668.9V675.9M1094.02 668.9V675.9M1217.65 668.9V675.9"/>
<text class="t" text-anchor="middle" transform="translate(723.15 708) scale(1 1.04)">0%</text>
<text class="t" text-anchor="middle" transform="translate(846.77 708) scale(1 1.04)">25%</text>
<text class="t" text-anchor="middle" transform="translate(970.4 708) scale(1 1.04)">50%</text>
<text class="t" text-anchor="middle" transform="translate(1094.02 708) scale(1 1.04)">75%</text>
<text class="t" text-anchor="middle" transform="translate(1217.65 708) scale(1 1.04)">100%</text>
<g class="ar">
<path d="M998.9 447.6L998.9 535.5" fill="none"/><path d="M998.9 547.5L991.97 535.5L1005.83 535.5Z" fill="#fff"/>
<path d="M907.9 519.8L923.8 519.69" fill="none"/><path d="M935.8 519.61L923.85 526.62L923.75 512.76Z" fill="#fff"/>
<path d="M1102 587.5L898.23 620.79" fill="none"/><path d="M886.39 622.72L897.11 613.95L899.35 627.63Z" fill="#fff"/>
<path d="M964.5 640.5L792 640.78" fill="none"/><path d="M780 640.8L791.99 633.85L792.01 647.71Z" fill="#fff"/>
</g>
<rect class="bx" x="908.5" y="411" width="180.5" height="36.5" rx="3.8"/>
<text class="l" textLength="163.4" lengthAdjust="spacing" transform="translate(915.6 437.75) scale(1 1.04)">Heart disease</text>
<rect class="bx" x="833.5" y="501.4" width="73.8" height="36.5" rx="3.8"/>
<text class="l" textLength="57.6" lengthAdjust="spacing" transform="translate(840.3 528.9) scale(1 1.04)">Male</text>
<rect class="bx" x="1102.3" y="567.75" width="93.3" height="36.5" rx="3.8"/>
<text class="l" textLength="75.8" lengthAdjust="spacing" transform="translate(1108.9 595.7) scale(1 1.04)">COPD</text>
<rect class="bx" x="964.6" y="622.5" width="269.6" height="36.5" rx="3.8"/>
<text class="l" textLength="251.2" lengthAdjust="spacing" transform="translate(971 649.3) scale(1 1.04)">Immunosuppressants</text>
</g>
<g id="panel-VA-OMOP">
<clipPath id="c20"><rect x="141.35" y="729.4" width="543.4" height="280.2"/></clipPath>
<rect x="141.35" y="729.4" width="543.4" height="280.2" fill="#fff"/>
<path class="gm" d="M227.66 729.4V1009.6M351.29 729.4V1009.6M474.91 729.4V1009.6M598.54 729.4V1009.6M141.35 965.44H684.75M141.35 901.71H684.75M141.35 837.99H684.75M141.35 774.26H684.75"/>
<path class="gM" d="M165.85 729.4V1009.6M289.48 729.4V1009.6M413.1 729.4V1009.6M536.73 729.4V1009.6M660.35 729.4V1009.6M141.35 997.3H684.75M141.35 933.58H684.75M141.35 869.85H684.75M141.35 806.12H684.75M141.35 742.4H684.75"/>
<g class="pt" clip-path="url(#c20)">
<rect x="163.95" y="984" width="14.2" height="14.2" fill="#000"/>
<rect x="169" y="981" width="14.2" height="14.2" fill="#000"/>
<rect x="177.1" y="974.2" width="14.2" height="14.2" fill="#000"/>
<rect x="184.4" y="982.3" width="14.2" height="14.2" fill="#000"/>
<rect x="198.7" y="977.6" width="14.2" height="14.2" fill="#000"/>
<rect x="195.6" y="967.3" width="14.2" height="14.2" fill="#000"/>
<rect x="206" y="962.2" width="14.2" height="14.2" fill="#000"/>
<rect x="220" y="955.1" width="14.2" height="14.2" fill="#000"/>
<rect x="255.9" y="939.6" width="14.2" height="14.2" fill="#000"/>
<rect x="172.9" y="977.9" width="14.2" height="14.2" fill="#000"/>
<rect x="180.9" y="975.9" width="14.2" height="14.2" fill="#000"/>
<rect x="188.9" y="971.9" width="14.2" height="14.2" fill="#000"/>
<circle cx="172.9" cy="991.2" r="7.35" fill="#000"/>
<circle cx="178" cy="989.5" r="7.35" fill="#000"/>
<path d="M181 982L190.09 997.75L171.91 997.75Z" fill="#000"/>
<path d="M184.25 980.06L193.34 995.81L175.16 995.81Z" fill="#000"/>
<path d="M187.5 978.12L196.59 993.88L178.41 993.88Z" fill="#000"/>
<path d="M190.75 976.19L199.84 991.94L181.66 991.94Z" fill="#000"/>
<path d="M194 974.25L203.09 990L184.91 990Z" fill="#000"/>
<path d="M197.25 972.31L206.34 988.06L188.16 988.06Z" fill="#000"/>
<path d="M200.5 970.38L209.59 986.12L191.41 986.12Z" fill="#000"/>
<path d="M203.75 968.44L212.84 984.19L194.66 984.19Z" fill="#000"/>
<path d="M207 966.5L216.09 982.25L197.91 982.25Z" fill="#000"/>
<circle cx="183" cy="989.5" r="7.35" fill="#000"/>
<circle cx="187.4" cy="987.1" r="7.35" fill="#000"/>
<circle cx="191.8" cy="984.7" r="7.35" fill="#000"/>
<circle cx="196.2" cy="982.3" r="7.35" fill="#000"/>
<circle cx="200.6" cy="979.9" r="7.35" fill="#000"/>
<circle cx="205" cy="977.5" r="7.35" fill="#000"/>
<rect x="252.9" y="957.8" width="14.2" height="14.2" fill="#f00"/>
<circle cx="521" cy="819.9" r="7.35" fill="#000"/>
<circle cx="453.1" cy="875" r="7.35" fill="#000"/>
<circle cx="456" cy="853.4" r="7.35" fill="#000"/>
<circle cx="378.4" cy="887.1" r="7.35" fill="#000"/>
<circle cx="325" cy="913.8" r="7.35" fill="#000"/>
<circle cx="213.9" cy="970.2" r="7.35" fill="#000"/>
<circle cx="215.9" cy="978.1" r="7.35" fill="#000"/>
<circle cx="229.2" cy="971.5" r="7.35" fill="#000"/>
<circle cx="271.6" cy="950.3" r="7.35" fill="#000"/>
<circle cx="268.3" cy="956.9" r="7.35" fill="#000"/>
<circle cx="292.2" cy="940.3" r="7.35" fill="#000"/>
<circle cx="296.8" cy="920.5" r="7.35" fill="#000"/>
<circle cx="300.2" cy="920.5" r="7.35" fill="#000"/>
<circle cx="309.2" cy="919.8" r="7.35" fill="#000"/>
<circle cx="309.4" cy="929.1" r="7.35" fill="#000"/>
<circle cx="198.4" cy="968.2" r="7.35" fill="#f00"/>
<circle cx="378.1" cy="925" r="7.35" fill="#f00"/>
<path d="M314.1 929.2L323.19 944.95L305.01 944.95Z" fill="#f00"/>
<path d="M479.7 829.2L488.79 844.95L470.61 844.95Z" fill="#000"/>
<path d="M466.4 855L475.49 870.75L457.31 870.75Z" fill="#000"/>
<path d="M435 857.6L444.09 873.35L425.91 873.35Z" fill="#000"/>
<path d="M416.9 860.7L425.99 876.45L407.81 876.45Z" fill="#000"/>
<path d="M428.4 874L437.49 889.75L419.31 889.75Z" fill="#000"/>
<path d="M426.7 875.7L435.79 891.45L417.61 891.45Z" fill="#000"/>
<path d="M398.8 879.2L407.89 894.95L389.71 894.95Z" fill="#000"/>
<path d="M368.6 889.2L377.69 904.95L359.51 904.95Z" fill="#000"/>
<path d="M335.7 897.8L344.79 913.55L326.61 913.55Z" fill="#000"/>
<path d="M350 902.4L359.09 918.15L340.91 918.15Z" fill="#000"/>
<path d="M357.8 903.3L366.89 919.05L348.71 919.05Z" fill="#000"/>
<path d="M337.2 914.9L346.29 930.65L328.11 930.65Z" fill="#000"/>
<path d="M232.5 953.5L241.59 969.25L223.41 969.25Z" fill="#000"/>
<path d="M233.8 962.1L242.89 977.85L224.71 977.85Z" fill="#000"/>
<path d="M251.5 944.4L260.59 960.15L242.41 960.15Z" fill="#000"/>
<path d="M285.6 940.2L294.69 955.95L276.51 955.95Z" fill="#000"/>
<path d="M298.2 915.7L307.29 931.45L289.11 931.45Z" fill="#000"/>
<path d="M314.1 929.2L323.19 944.95L305.01 944.95Z" fill="#000"/>
<path d="M522.1 845L531.19 860.75L513.01 860.75Z" fill="#f00"/>
<path d="M344 869.7L353.09 885.45L334.91 885.45Z" fill="#f00"/>
<path d="M469.5 879.7L478.59 895.45L460.41 895.45Z" fill="#f00"/>
<path d="M457.2 896.4L466.29 912.15L448.11 912.15Z" fill="#f00"/>
<path d="M393.1 895.5L402.19 911.25L384.01 911.25Z" fill="#f00"/>
<path d="M400.9 894.7L409.99 910.45L391.81 910.45Z" fill="#f00"/>
<path d="M385.3 909.3L394.39 925.05L376.21 925.05Z" fill="#f00"/>
<path d="M277.6 950.1L286.69 965.85L268.51 965.85Z" fill="#f00"/>
<path d="M306.5 945L315.59 960.75L297.41 960.75Z" fill="#f00"/>
<rect x="623.8" y="750.3" width="14.2" height="14.2" fill="#000"/>
</g>
<path class="ab" stroke-dasharray="8.7 10.07" d="M141.35 1009.6L684.75 729.4"/>
<rect class="bd" x="141.35" y="729.4" width="543.4" height="280.2"/>
<rect class="st" x="141.35" y="682.4" width="543.4" height="47"/>
<path class="sb" d="M141.05 729.4H685.05"/>
<text class="b" text-anchor="middle" transform="translate(412.85 716.2) scale(1 1.04)">VA OMOP</text>
<path class="tk" d="M134.35 997.3H141.35M134.35 933.58H141.35M134.35 869.85H141.35M134.35 806.12H141.35M134.35 742.4H141.35"/>
<text class="t" text-anchor="end" transform="translate(122.65 1005.5) scale(1 1.04)">0%</text>
<text class="t" text-anchor="end" transform="translate(122.65 941.78) scale(1 1.04)">25%</text>
<text class="t" text-anchor="end" transform="translate(122.65 878.05) scale(1 1.04)">50%</text>
<text class="t" text-anchor="end" transform="translate(122.65 814.33) scale(1 1.04)">75%</text>
<text class="t" text-anchor="end" transform="translate(122.65 750.6) scale(1 1.04)">100%</text>
<path class="tk" d="M165.85 1009.6V1016.6M289.48 1009.6V1016.6M413.1 1009.6V1016.6M536.73 1009.6V1016.6M660.35 1009.6V1016.6"/>
<text class="t" text-anchor="middle" transform="translate(165.85 1048.7) scale(1 1.04)">0%</text>
<text class="t" text-anchor="middle" transform="translate(289.48 1048.7) scale(1 1.04)">25%</text>
<text class="t" text-anchor="middle" transform="translate(413.1 1048.7) scale(1 1.04)">50%</text>
<text class="t" text-anchor="middle" transform="translate(536.73 1048.7) scale(1 1.04)">75%</text>
<text class="t" text-anchor="middle" transform="translate(660.35 1048.7) scale(1 1.04)">100%</text>
<g class="ar">
<path d="M453.1 774.7L453.1 853.3" fill="none"/><path d="M453.1 865.3L446.17 853.3L460.03 853.3Z" fill="#fff"/>
<path d="M630.7 815.2L630.7 778.3" fill="none"/><path d="M630.7 766.3L637.63 778.3L623.77 778.3Z" fill="#fff"/>
<path d="M578.3 925L399.3 924.53" fill="none"/><path d="M387.3 924.5L399.32 917.6L399.28 931.46Z" fill="#fff"/>
<path d="M406.6 983.5L207.8 988.47" fill="none"/><path d="M195.8 988.77L207.62 981.54L207.97 995.4Z" fill="#fff"/>
</g>
<rect class="bx" x="363" y="738.2" width="180.5" height="36.5" rx="3.8"/>
<text class="l" textLength="163.4" lengthAdjust="spacing" transform="translate(371.8 765.3) scale(1 1.04)">Heart disease</text>
<rect class="bx" x="594.25" y="815.2" width="73.6" height="36.5" rx="3.8"/>
<text class="l" textLength="57.6" lengthAdjust="spacing" transform="translate(600.15 842.6) scale(1 1.04)">Male</text>
<rect class="bx" x="578.8" y="906.6" width="92.8" height="36.5" rx="3.8"/>
<text class="l" textLength="75.8" lengthAdjust="spacing" transform="translate(586.5 933.3) scale(1 1.04)">COPD</text>
<rect class="bx" x="406.8" y="965.3" width="269.6" height="36.5" rx="3.8"/>
<text class="l" textLength="251.2" lengthAdjust="spacing" transform="translate(413.9 990.2) scale(1 1.04)">Immunosuppressants</text>
</g>
<g id="legend">
<rect x="1294.8" y="413.6" width="14.2" height="14.2" fill="#000" fill-opacity=".5"/>
<text class="t" transform="translate(1321.6 430.5) scale(1 1.04)">Demographics</text>
<circle cx="1302.1" cy="462.1" r="7.35" fill="#000" fill-opacity=".5"/>
<text class="t" transform="translate(1321.6 470.9) scale(1 1.04)">Conditions</text>
<path d="M1302 492.3L1311.09 508.05L1292.91 508.05Z" fill="#000" fill-opacity=".5"/>
<text class="t" transform="translate(1321.6 508.9) scale(1 1.04)">Medications</text>
<circle cx="1302.1" cy="609.5" r="7.3" fill="#f00" fill-opacity=".5"/>
<circle cx="1302.1" cy="609.5" r="6.75" fill="none" stroke="#f00" stroke-opacity=".55" stroke-width="1"/>
<text class="t" textLength="135.4" lengthAdjust="spacing" transform="translate(1318.6 617.7) scale(1 1.04)">SMD &gt; 0.1</text>
<circle cx="1302" cy="650.5" r="7.3" fill="#000" fill-opacity=".5"/>
<circle cx="1302" cy="650.5" r="6.75" fill="none" stroke="#000" stroke-opacity=".55" stroke-width="1"/>
<text class="t" textLength="135" lengthAdjust="spacing" transform="translate(1318.6 659.9) scale(1 1.04)">SMD ≤ 0.1</text>
</g>
</svg></body></html>
